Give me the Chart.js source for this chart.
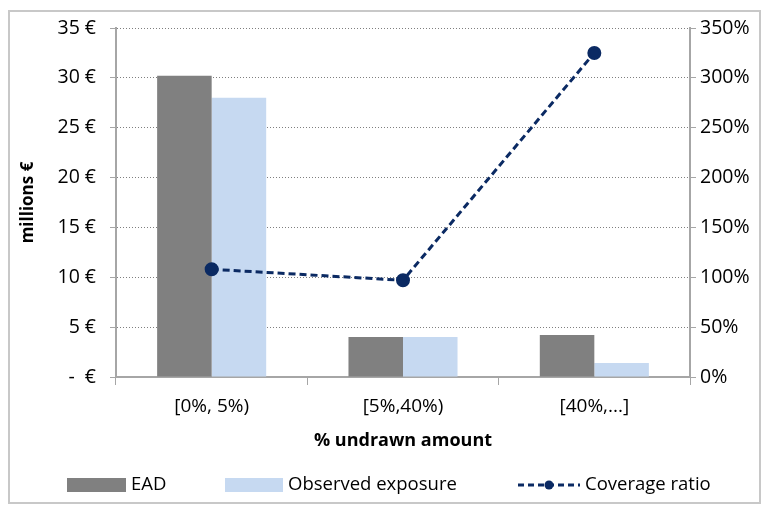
<!DOCTYPE html>
<html>
<head>
<meta charset="utf-8">
<script src="https://cdn.jsdelivr.net/npm/chart.js@4"></script>
<style>
  html, body { margin: 0; padding: 0; background: #fff; }
  #wrap { width: 763px; height: 506px; }
</style>
</head>
<body>
<div id="wrap"><canvas id="myChart" width="763" height="506"></canvas></div>
<script>
let categories = ['[0%, 5%)', '[5%,40%)', '[40%,...]']
let ead = [30.2, 4.0, 4.2]
let observed = [28.0, 4.0, 1.4]
let coverage = [108, 97, 325]
let leftTicks = [0, 5, 10, 15, 20, 25, 30, 35]
let rightTicks = [0, 50, 100, 150, 200, 250, 300, 350]

let fontFam = '"Open Sans", Lato, sans-serif'
let axisGray = '#a6a6a6'

// outer frame + bottom legend drawn by hand
let framePlugin = {
  id: 'frame',
  beforeDraw(chart) {
    let c = chart.ctx
    c.save()
    c.strokeStyle = '#c8c8c8'
    c.lineWidth = 2
    c.strokeRect(9, 11, 751, 492)
    c.restore()
  },
  afterDraw(chart) {
    let c = chart.ctx
    let y = 485
    c.save()
    c.font = '18.5px ' + fontFam
    c.textBaseline = 'middle'
    // EAD
    c.fillStyle = chart.data.datasets[1].backgroundColor
    c.fillRect(67, y - 7, 59, 14)
    c.fillStyle = '#000'
    c.fillText(chart.data.datasets[1].label, 131, y)
    // observed
    c.fillStyle = chart.data.datasets[2].backgroundColor
    c.fillRect(225, y - 7, 58, 14)
    c.fillStyle = '#000'
    c.fillText(chart.data.datasets[2].label, 288, y)
    // coverage
    let ds = chart.data.datasets[0]
    c.strokeStyle = ds.borderColor
    c.lineWidth = 3
    c.setLineDash([6, 4])
    c.beginPath()
    c.moveTo(518, y); c.lineTo(580, y)
    c.stroke()
    c.setLineDash([])
    c.fillStyle = ds.borderColor
    c.beginPath()
    c.arc(549, y, 4.5, 0, Math.PI * 2)
    c.fill()
    c.fillStyle = '#000'
    c.fillText(ds.label, 585, y)
    c.restore()
  }
}

let myChart = document.getElementById('myChart').getContext('2d')
let chart = new Chart(myChart, {
  type: 'bar',
  data: {
    labels: categories,
    datasets: [{
      type: 'line',
      label: 'Coverage ratio',
      data: coverage,
      yAxisID: 'y1',
      borderColor: '#0b2a63',
      backgroundColor: '#0b2a63',
      borderWidth: 3,
      borderDash: [7, 4],
      pointRadius: 5.5,
      pointHoverRadius: 5.5,
      tension: 0,
      order: 0
    }, {
      label: 'EAD',
      data: ead,
      yAxisID: 'y',
      backgroundColor: '#808080',
      categoryPercentage: 0.57,
      barPercentage: 1,
      order: 1
    }, {
      label: 'Observed exposure',
      data: observed,
      yAxisID: 'y',
      backgroundColor: '#c6d9f1',
      categoryPercentage: 0.57,
      barPercentage: 1,
      order: 1
    }]
  },
  options: {
    responsive: false,
    animation: false,
    layout: { padding: { top: 28, bottom: 50, left: 0, right: 0 } },
    plugins: { legend: { display: false }, tooltip: { enabled: false } },
    scales: {
      x: {
        offset: true,
        grid: { offset: true, drawOnChartArea: false, color: axisGray, tickLength: 8 },
        border: { color: axisGray, width: 2 },
        ticks: { color: '#000', font: { family: fontFam, size: 19 }, padding: 10 },
        title: { display: true, text: '% undrawn amount', color: '#000', font: { family: fontFam, size: 18, weight: 'bold' }, padding: { top: 2 } },
        afterFit(s) { s.height = 506 - 50 - 377 }
      },
      y: {
        position: 'left',
        min: 0, max: 35,
        afterBuildTicks(s) { s.ticks = leftTicks.map(v => ({ value: v })) },
        grid: { color: '#7f7f7f', tickLength: 6, tickColor: axisGray, tickBorderDash: [] },
        border: { color: axisGray, width: 2, dash: [1, 2] },
        ticks: {
          color: '#000', font: { family: fontFam, size: 19.5 }, padding: 14,
          callback: v => v === 0 ? '-  €' : v + ' €'
        },
        title: { display: true, text: 'millions €', color: '#000', font: { family: fontFam, size: 17, weight: 'bold' }, padding: { top: 18, bottom: 0 } },
        afterFit(s) { s.width = 116 }
      },
      y1: {
        position: 'right',
        min: 0, max: 350,
        afterBuildTicks(s) { s.ticks = rightTicks.map(v => ({ value: v })) },
        grid: { drawOnChartArea: false, color: axisGray, tickLength: 6 },
        border: { color: axisGray, width: 2 },
        ticks: {
          color: '#000', font: { family: fontFam, size: 19.5 }, padding: 4,
          callback: v => v + '%'
        },
        afterFit(s) { s.width = 763 - 690 }
      }
    }
  },
  plugins: [framePlugin]
})
</script>
</body>
</html>
